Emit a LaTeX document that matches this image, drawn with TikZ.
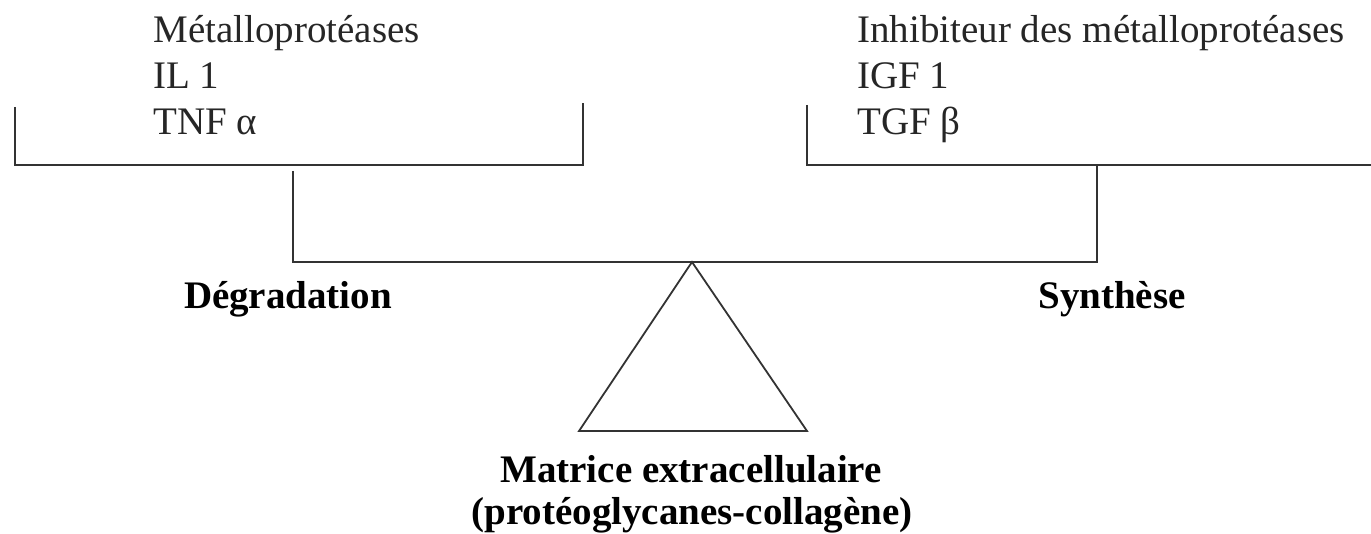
\documentclass[tikz,border=0pt]{standalone}
\usepackage{fontspec}
\setmainfont{Liberation Serif}
\begin{document}
\begin{tikzpicture}[x=0.5pt,y=-0.5pt,
  txt/.style={anchor=base west, inner sep=0pt, text=black!85, font=\fontsize{19.5}{23}\selectfont},
  btxt/.style={anchor=base, inner sep=0pt, font=\fontsize{19.5}{23}\selectfont\bfseries},
  ln/.style={line width=0.9pt, draw=black!80}]
\useasboundingbox (0,0) rectangle (1371,534);
% left group
\node[txt] (l1) at (153,43) {Métalloprotéases};
\node[txt] (l2) at (153,89) {IL 1};
\node[txt] (l3) at (153,135) {TNF α};
% right group
\node[txt] (r1) at (857,43) {Inhibiteur des métalloprotéases};
\node[txt] (r2) at (857,89) {IGF 1};
\node[txt] (r3) at (857,135) {TGF β};
% brackets
\coordinate (L1) at (15,107);
\coordinate (L2) at (15,165);
\coordinate (L3) at (583,165);
\coordinate (L4) at (583,103);
\draw[ln] (L1) -- (L2) -- (L3) -- (L4);
\coordinate (R1) at (807,105);
\coordinate (R2) at (807,165);
\coordinate (R3) at (1371,165);
\draw[ln] (R1) -- (R2) -- (R3);
% beam
\coordinate (B1) at (293,171);
\coordinate (B2) at (293,262);
\coordinate (B3) at (1097,262);
\coordinate (B4) at (1097,165);
\draw[ln] (B1) -- (B2) -- (B3) -- (B4);
% fulcrum
\coordinate (T1) at (692,262);
\coordinate (T2) at (579,431);
\coordinate (T3) at (807,431);
\draw[ln] (T1) -- (T2) -- (T3) -- cycle;
% labels
\node[btxt] (deg) at (288,308) {Dégradation};
\node[btxt] (syn) at (1112,308) {Synthèse};
\node[btxt] (mat) at (691,482) {Matrice extracellulaire};
\node[btxt] (pro) at (692,524) {(protéoglycanes-collagène)};
\end{tikzpicture}
\end{document}
